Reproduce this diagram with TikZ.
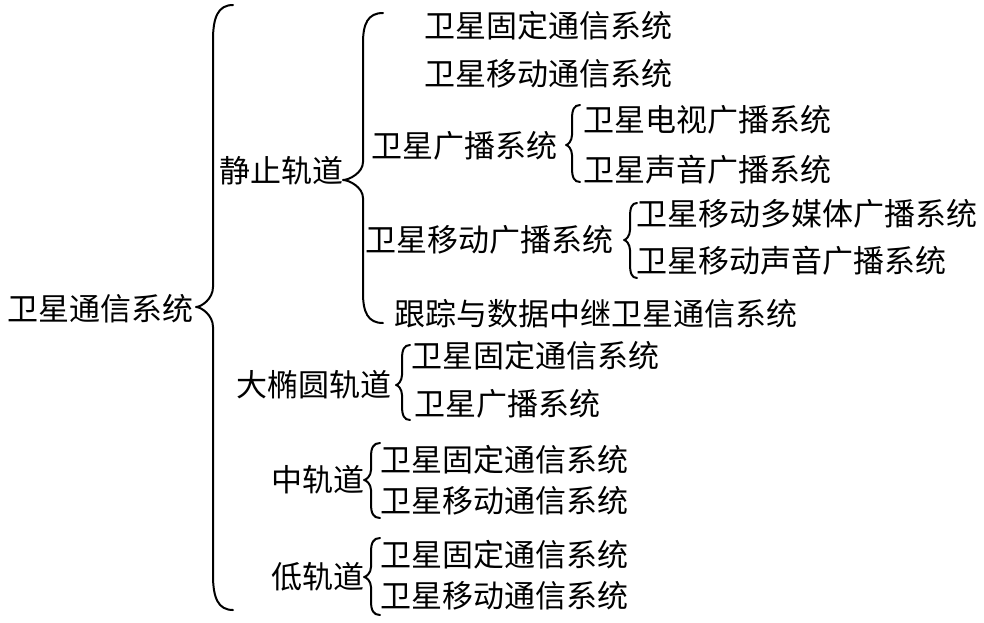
\documentclass[tikz,border=0pt]{standalone}
\usepackage{fontspec}
\newfontfamily\cjk{Noto Sans CJK SC}
\newcommand\cbr[8]{% end x, line x, tip x, top y, tip y, bottom y, curl a, tip b
\draw[braceline] (#1,#4) .. controls ({#2+0.25*(#1-#2)},#4) and (#2,{#4+0.35*#7}) .. (#2,{#4+#7})
 -- (#2,{#5-#8})
 .. controls (#2,{#5-0.4*#8}) and ({#3+0.3*(#2-#3)},#5) .. (#3,#5)
 .. controls ({#3+0.3*(#2-#3)},#5) and (#2,{#5+0.4*#8}) .. (#2,{#5+#8})
 -- (#2,{#6-#7})
 .. controls (#2,{#6-0.35*#7}) and ({#2+0.25*(#1-#2)},#6) .. (#1,#6);}
\begin{document}
\begin{tikzpicture}[x=1pt,y=-1pt,
  txt/.style={font=\cjk\fontsize{31}{31}\selectfont, inner sep=0pt, anchor=base west, yshift=-11.5pt},
  braceline/.style={line width=2pt, line cap=round, line join=round}]
\useasboundingbox[fill=white] (0,0) rectangle (984,622);
% root
\node[txt] (root) at (7,309) {卫星通信系统};
\cbr{233}{213}{196}{5}{307}{610}{35}{20}
% GEO
\node[txt] (geo) at (219,171) {静止轨道};
\cbr{383}{363}{343}{13}{180}{323}{30}{18}
\node[txt] (g1) at (424,26) {卫星固定通信系统};
\node[txt] (g2) at (424,74) {卫星移动通信系统};
\node[txt] (g3) at (371,146) {卫星广播系统};
\cbr{580}{572}{566}{105}{145}{182}{14}{10}
\node[txt] (g31) at (583,120) {卫星电视广播系统};
\node[txt] (g32) at (583,170) {卫星声音广播系统};
\node[txt] (g4) at (365,240) {卫星移动广播系统};
\cbr{637}{630}{624}{203}{240}{278}{14}{10}
\node[txt] (g41) at (636,214) {卫星移动多媒体广播系统};
\node[txt] (g42) at (636,261) {卫星移动声音广播系统};
\node[txt] (g5) at (394,314) {跟踪与数据中继卫星通信系统};
% HEO
\node[txt] (heo) at (236,385) {大椭圆轨道};
\cbr{410}{402}{396}{345}{385}{420}{14}{10}
\node[txt] (h1) at (411,356) {卫星固定通信系统};
\node[txt] (h2) at (414,404) {卫星广播系统};
% MEO
\node[txt] (meo) at (271,480) {中轨道};
\cbr{380}{371}{364}{443}{480}{518}{14}{10}
\node[txt] (m1) at (380,460) {卫星固定通信系统};
\node[txt] (m2) at (380,501) {卫星移动通信系统};
% LEO
\node[txt] (leo) at (271,577) {低轨道};
\cbr{380}{371}{364}{538}{577}{615}{14}{10}
\node[txt] (l1) at (380,555) {卫星固定通信系统};
\node[txt] (l2) at (380,596) {卫星移动通信系统};
\end{tikzpicture}
\end{document}
